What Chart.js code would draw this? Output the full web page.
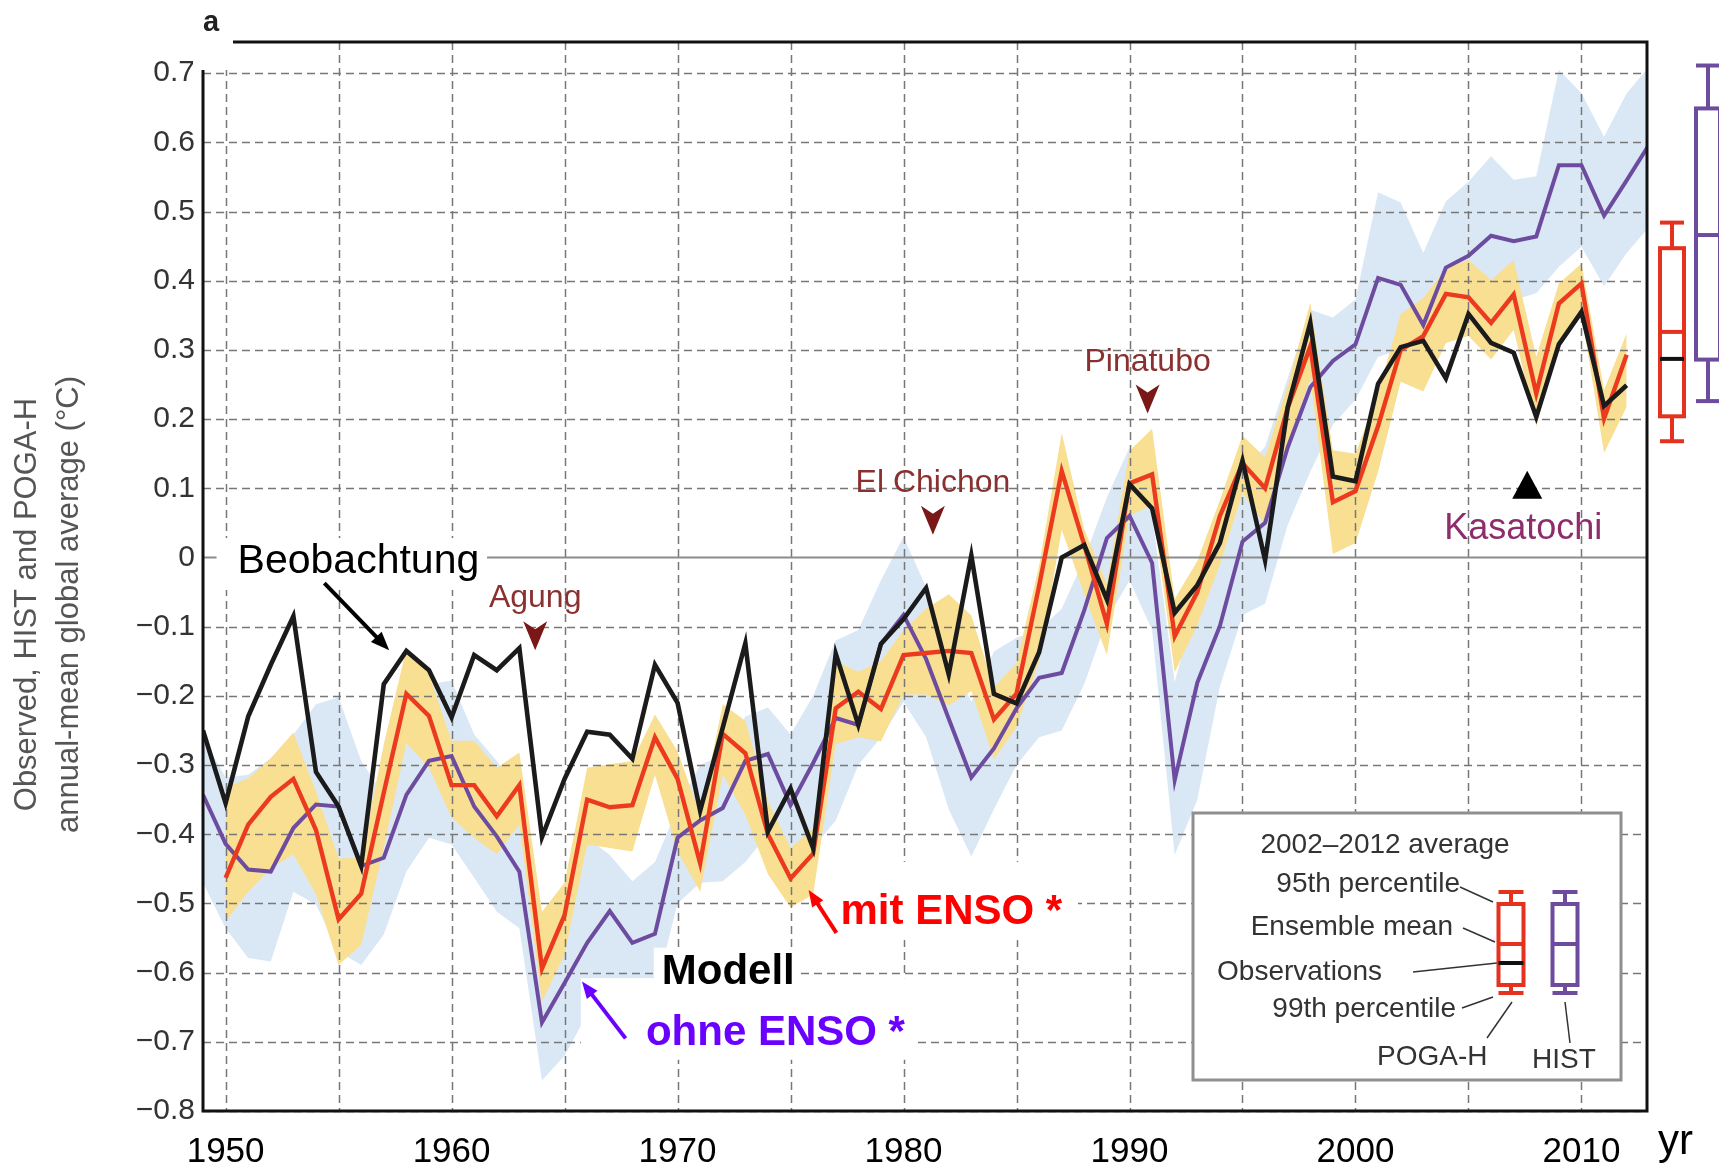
<!DOCTYPE html>
<html>
<head>
<meta charset="utf-8">
<script src="https://cdn.jsdelivr.net/npm/chart.js@4.4.1/dist/chart.umd.min.js"></script>
<style>
  html, body { margin: 0; padding: 0; background: #fff; }
  #wrap { width: 1719px; height: 1165px; position: relative; }
</style>
</head>
<body>
<div id="wrap"><canvas id="chart"></canvas></div>
<script>
// years on the x axis
var years = [1949, 1950, 1951, 1952, 1953, 1954, 1955, 1956, 1957, 1958,
  1959, 1960, 1961, 1962, 1963, 1964, 1965, 1966, 1967, 1968,
  1969, 1970, 1971, 1972, 1973, 1974, 1975, 1976, 1977, 1978,
  1979, 1980, 1981, 1982, 1983, 1984, 1985, 1986, 1987, 1988,
  1989, 1990, 1991, 1992, 1993, 1994, 1995, 1996, 1997, 1998,
  1999, 2000, 2001, 2002, 2003, 2004, 2005, 2006, 2007, 2008,
  2009, 2010, 2011, 2012, 2013];

// observed (black)
var observed = [-0.25, -0.355, -0.23, -0.155, -0.085, -0.31, -0.36, -0.446, -0.183, -0.135,
  -0.163, -0.231, -0.141, -0.163, -0.131, -0.404, -0.32, -0.252, -0.256, -0.291,
  -0.155, -0.21, -0.366, -0.246, -0.124, -0.396, -0.334, -0.42, -0.139, -0.242,
  -0.125, -0.089, -0.044, -0.169, 0.003, -0.197, -0.211, -0.137, 0.0, 0.018,
  -0.061, 0.106, 0.071, -0.08, -0.04, 0.021, 0.14, -0.004, 0.217, 0.339,
  0.117, 0.11, 0.251, 0.304, 0.313, 0.259, 0.352, 0.31, 0.296, 0.203,
  0.308, 0.355, 0.219, 0.249, null];

// POGA-H ensemble mean (red) and its spread (yellow)
var pogaMean = [null, -0.463, -0.386, -0.346, -0.32, -0.394, -0.523, -0.486, -0.34, -0.197,
  -0.229, -0.329, -0.329, -0.374, -0.329, -0.594, -0.517, -0.35, -0.361, -0.358,
  -0.26, -0.32, -0.442, -0.255, -0.283, -0.4, -0.464, -0.428, -0.218, -0.194,
  -0.219, -0.141, -0.138, -0.135, -0.138, -0.234, -0.197, -0.041, 0.125, 0.018,
  -0.096, 0.107, 0.12, -0.114, -0.05, 0.06, 0.136, 0.1, 0.216, 0.305,
  0.08, 0.096, 0.19, 0.3, 0.32, 0.381, 0.376, 0.339, 0.38, 0.237,
  0.367, 0.396, 0.201, 0.293, null];
var pogaHigh = [null, -0.333, -0.319, -0.29, -0.253, -0.338, -0.435, -0.434, -0.27, -0.132,
  -0.169, -0.265, -0.265, -0.304, -0.282, -0.512, -0.47, -0.304, -0.299, -0.294,
  -0.227, -0.28, -0.372, -0.212, -0.236, -0.352, -0.42, -0.391, -0.15, -0.165,
  -0.15, -0.105, -0.074, -0.053, -0.084, -0.188, -0.152, -0.012, 0.18, 0.04,
  -0.038, 0.154, 0.186, -0.06, -0.005, 0.083, 0.176, 0.145, 0.249, 0.368,
  0.155, 0.15, 0.238, 0.352, 0.375, 0.418, 0.43, 0.401, 0.43, 0.29,
  0.396, 0.425, 0.242, 0.324, null];
var pogaLow = [null, -0.526, -0.483, -0.449, -0.429, -0.487, -0.589, -0.56, -0.42, -0.268,
  -0.304, -0.376, -0.405, -0.429, -0.386, -0.642, -0.574, -0.415, -0.42, -0.425,
  -0.314, -0.425, -0.483, -0.314, -0.372, -0.458, -0.506, -0.487, -0.27, -0.26,
  -0.266, -0.198, -0.198, -0.214, -0.193, -0.292, -0.245, -0.15, 0.04, -0.053,
  -0.141, 0.061, 0.075, -0.166, -0.098, -0.01, 0.093, 0.047, 0.166, 0.259,
  0.005, 0.021, 0.124, 0.254, 0.24, 0.31, 0.32, 0.286, 0.329, 0.189,
  0.314, 0.353, 0.151, 0.218, null];

// HIST ensemble mean (purple) and its spread (blue)
var histMean = [-0.343, -0.414, -0.451, -0.454, -0.391, -0.357, -0.36, -0.446, -0.434, -0.343,
  -0.294, -0.287, -0.36, -0.403, -0.454, -0.672, -0.615, -0.557, -0.511, -0.557,
  -0.544, -0.405, -0.38, -0.362, -0.294, -0.284, -0.358, -0.297, -0.232, -0.242,
  -0.125, -0.083, -0.147, -0.233, -0.318, -0.276, -0.218, -0.174, -0.167, -0.076,
  0.028, 0.06, -0.008, -0.322, -0.181, -0.099, 0.023, 0.05, 0.159, 0.246,
  0.284, 0.308, 0.404, 0.394, 0.336, 0.419, 0.436, 0.465, 0.457, 0.464,
  0.567, 0.567, 0.494, 0.545, 0.597];
var histHigh = [-0.26, -0.318, -0.314, -0.29, -0.256, -0.212, -0.202, -0.294, -0.343, -0.27,
  -0.183, -0.178, -0.256, -0.294, -0.333, -0.52, -0.478, -0.405, -0.43, -0.468,
  -0.44, -0.362, -0.3, -0.285, -0.23, -0.217, -0.256, -0.2, -0.12, -0.105,
  -0.033, 0.03, -0.043, -0.136, -0.209, -0.136, -0.116, -0.105, -0.074, -0.002,
  0.087, 0.159, 0.06, -0.18, -0.06, 0.005, 0.124, 0.16, 0.259, 0.358,
  0.347, 0.373, 0.528, 0.513, 0.44, 0.515, 0.543, 0.58, 0.546, 0.551,
  0.705, 0.671, 0.608, 0.671, 0.71];
var histLow = [-0.47, -0.536, -0.579, -0.584, -0.483, -0.502, -0.57, -0.589, -0.545, -0.454,
  -0.405, -0.415, -0.463, -0.512, -0.536, -0.756, -0.72, -0.66, -0.64, -0.64,
  -0.63, -0.5, -0.47, -0.468, -0.44, -0.4, -0.44, -0.42, -0.38, -0.3,
  -0.26, -0.209, -0.26, -0.364, -0.432, -0.364, -0.3, -0.26, -0.25, -0.183,
  -0.09, -0.033, -0.105, -0.43, -0.35, -0.187, -0.083, -0.067, 0.047, 0.124,
  0.192, 0.228, 0.29, 0.3, 0.245, 0.335, 0.367, 0.382, 0.372, 0.382,
  0.42, 0.449, 0.392, 0.44, 0.478];

// 2002-2012 averages (box plots right of the frame)
var boxNames = ['POGA-H', 'HIST'];
var box99Low = [0.168, 0.226];
var box95Low = [0.204, 0.286];
var boxMeans = [0.326, 0.466];
var box95High = [0.447, 0.649];
var box99High = [0.484, 0.711];
var obsAverage = 0.287;

// volcanic eruptions
var volcanoNames = ['Agung', 'El Chichon', 'Pinatubo'];
var volcanoYears = [1963.7, 1981.3, 1990.8];
var volcanoTips = [-0.134, 0.033, 0.208];

function toPoints(values) {
  var pts = [];
  for (var i = 0; i < years.length; i++) {
    if (values[i] !== null) pts.push({x: years[i], y: values[i]});
  }
  return pts;
}

function seg(ctx, x1, y1, x2, y2) {
  ctx.beginPath(); ctx.moveTo(x1, y1); ctx.lineTo(x2, y2); ctx.stroke();
}

function arrow(ctx, x1, y1, x2, y2, color, w, head) {
  var ang = Math.atan2(y2 - y1, x2 - x1);
  ctx.strokeStyle = color; ctx.fillStyle = color; ctx.lineWidth = w;
  seg(ctx, x1, y1, x2 - Math.cos(ang) * head * 0.7, y2 - Math.sin(ang) * head * 0.7);
  ctx.beginPath();
  ctx.moveTo(x2, y2);
  ctx.lineTo(x2 - head * Math.cos(ang - 0.38), y2 - head * Math.sin(ang - 0.38));
  ctx.lineTo(x2 - head * Math.cos(ang + 0.38), y2 - head * Math.sin(ang + 0.38));
  ctx.closePath(); ctx.fill();
}

function boxGlyph(ctx, cx, w, yCapTop, yTop, yMid, yBot, yCapBot, color) {
  ctx.strokeStyle = color; ctx.lineWidth = 4;
  ctx.strokeRect(cx - w / 2, yTop, w, yBot - yTop);
  seg(ctx, cx - w / 2, yMid, cx + w / 2, yMid);
  seg(ctx, cx, yCapTop, cx, yTop);
  seg(ctx, cx, yBot, cx, yCapBot);
  seg(ctx, cx - w / 2, yCapTop, cx + w / 2, yCapTop);
  seg(ctx, cx - w / 2, yCapBot, cx + w / 2, yCapBot);
}

var decor = {
  id: 'decor',
  // grid and white label boxes go above the bands but under the lines
  afterDatasetDraw: function (chart, args) {
    if (args.index !== 3) return;
    var ctx = chart.ctx, a = chart.chartArea, sx = chart.scales.x, sy = chart.scales.y;
    ctx.save();
    ctx.strokeStyle = '#777'; ctx.lineWidth = 1.5; ctx.setLineDash([8, 5]);
    sx.ticks.forEach(function (t) {
      var p = Math.round(sx.getPixelForValue(t.value)) + 0.5;
      seg(ctx, p, a.top, p, a.bottom);
    });
    sy.ticks.forEach(function (t) {
      if (Math.abs(t.value) < 1e-9) return;
      var p = Math.round(sy.getPixelForValue(t.value)) + 0.5;
      seg(ctx, a.left, p, a.right, p);
    });
    ctx.setLineDash([]);
    ctx.strokeStyle = '#8c8c8c'; ctx.lineWidth = 1.8;
    var z = Math.round(sy.getPixelForValue(0)) + 0.5;
    seg(ctx, a.left, z, a.right, z);

    ctx.fillStyle = '#ffffff';
    function whiteBox(x1, v1, x2, v2) {
      var px1 = sx.getPixelForValue(x1), py1 = sy.getPixelForValue(v1);
      ctx.fillRect(px1, py1, sx.getPixelForValue(x2) - px1, sy.getPixelForValue(v2) - py1);
    }
    whiteBox(1949.6, 0.028, 1961.57, -0.047);
    whiteBox(1976.33, -0.44, 1987.72, -0.553);
    whiteBox(1968.95, -0.564, 1975.35, -0.628);
    whiteBox(1965.72, -0.608, 1980.43, -0.726);
    ctx.restore();
  },
  afterDraw: function (chart) {
    var ctx = chart.ctx, a = chart.chartArea, sx = chart.scales.x, sy = chart.scales.y;
    var X = function (v) { return sx.getPixelForValue(v); };
    var Y = function (v) { return sy.getPixelForValue(v); };
    ctx.save();

    // frame
    ctx.strokeStyle = '#111'; ctx.lineWidth = 3;
    ctx.strokeRect(a.left, a.top, a.right - a.left, a.bottom - a.top);
    ctx.fillStyle = '#fff';
    ctx.fillRect(a.left - 10, a.top - 12, 40, 40);
    ctx.fillStyle = '#222'; ctx.font = 'bold 29px "Liberation Sans"';
    ctx.textAlign = 'left'; ctx.textBaseline = 'alphabetic';
    ctx.fillText('a', a.left, a.top - 11);

    // y axis title
    ctx.save();
    ctx.translate(27, (a.top + a.bottom) / 2 + 28);
    ctx.rotate(-Math.PI / 2);
    ctx.fillStyle = '#555'; ctx.font = '31px "Liberation Sans"';
    ctx.textAlign = 'center'; ctx.textBaseline = 'middle';
    ctx.fillText('Observed, HIST and POGA-H', 0, 0);
    ctx.fillText('annual-mean global average (\u00B0C)', 0, 42);
    ctx.restore();

    // x unit
    ctx.fillStyle = '#000'; ctx.font = '42px "Liberation Sans"';
    ctx.fillText('yr', a.right + 11, a.bottom + 43);

    // volcano markers
    ctx.textAlign = 'center';
    volcanoNames.forEach(function (name, i) {
      var x = X(volcanoYears[i]), tip = Y(volcanoTips[i]);
      ctx.fillStyle = '#7a1717';
      ctx.beginPath();
      ctx.moveTo(x, tip); ctx.lineTo(x - 12, tip - 29); ctx.lineTo(x, tip - 21); ctx.lineTo(x + 12, tip - 29);
      ctx.closePath(); ctx.fill();
      ctx.fillStyle = '#8a3030'; ctx.font = '32px "Liberation Sans"';
      ctx.fillText(name, x, tip - 43);
    });
    var kx = X(2007.6), kb = Y(0.085);
    ctx.fillStyle = '#000';
    ctx.beginPath(); ctx.moveTo(kx - 15, kb); ctx.lineTo(kx, kb - 28); ctx.lineTo(kx + 15, kb); ctx.closePath(); ctx.fill();
    ctx.fillStyle = '#8e2d6c'; ctx.font = '36px "Liberation Sans"';
    ctx.fillText('Kasatochi', kx - 4, kb + 40);

    // labels and arrows
    ctx.textAlign = 'left';
    ctx.fillStyle = '#000'; ctx.font = '41px "Liberation Sans"';
    ctx.fillText('Beobachtung', X(1950.53), Y(-0.0224));
    arrow(ctx, X(1954.37), Y(-0.037), X(1957.24), Y(-0.134), '#000', 4, 20);

    ctx.fillStyle = '#ff0000'; ctx.font = 'bold 42px "Liberation Sans"';
    ctx.fillText('mit ENSO *', X(1977.21), Y(-0.5296));
    arrow(ctx, X(1977.03), Y(-0.5426), X(1975.8), Y(-0.4805), '#ff0000', 4, 18);

    ctx.fillStyle = '#000';
    ctx.fillText('Modell', X(1969.3), Y(-0.617));
    ctx.fillStyle = '#6a00ff';
    ctx.fillText('ohne ENSO *', X(1968.6), Y(-0.7045));
    arrow(ctx, X(1967.7), Y(-0.695), X(1965.77), Y(-0.613), '#6a00ff', 4, 18);

    // 2002-2012 averages beside the frame
    var colors = ['#e5321f', '#6d4c9e'];
    var centers = [a.right + 25, a.right + 61];
    boxNames.forEach(function (n, i) {
      boxGlyph(ctx, centers[i], 24, Y(box99High[i]), Y(box95High[i]), Y(boxMeans[i]), Y(box95Low[i]), Y(box99Low[i]), colors[i]);
    });
    ctx.strokeStyle = '#111'; ctx.lineWidth = 4;
    seg(ctx, centers[0] - 12, Y(obsAverage), centers[0] + 12, Y(obsAverage));

    // inset legend
    var ox = a.right - 454, oy = a.bottom - 298;
    ctx.fillStyle = '#fff'; ctx.fillRect(ox, oy, 428, 267);
    ctx.strokeStyle = '#8f8f8f'; ctx.lineWidth = 3; ctx.strokeRect(ox, oy, 428, 267);
    ctx.fillStyle = '#333'; ctx.font = '28px "Liberation Sans"';
    ctx.textAlign = 'center'; ctx.fillText('2002\u20132012 average', ox + 192, oy + 40);
    ctx.textAlign = 'right';
    ctx.fillText('95th percentile', ox + 267, oy + 79);
    ctx.fillText('Ensemble mean', ox + 260, oy + 122);
    ctx.fillText('Observations', ox + 189, oy + 167);
    ctx.fillText('99th percentile', ox + 263, oy + 204);
    ctx.textAlign = 'left';
    ctx.fillText('POGA-H', ox + 184, oy + 252);
    ctx.fillText('HIST', ox + 339, oy + 255);
    ctx.strokeStyle = '#333'; ctx.lineWidth = 1.5;
    seg(ctx, ox + 267, oy + 74, ox + 300, oy + 89);
    seg(ctx, ox + 270, oy + 115, ox + 302, oy + 129);
    seg(ctx, ox + 220, oy + 159, ox + 304, oy + 150);
    seg(ctx, ox + 269, oy + 195, ox + 300, oy + 184);
    seg(ctx, ox + 294, oy + 225, ox + 319, oy + 189);
    seg(ctx, ox + 377, oy + 230, ox + 372, oy + 189);
    boxGlyph(ctx, ox + 318, 25, oy + 79, oy + 91, oy + 131, oy + 172, oy + 180, colors[0]);
    boxGlyph(ctx, ox + 372, 25, oy + 79, oy + 91, oy + 131, oy + 172, oy + 180, colors[1]);
    ctx.strokeStyle = '#111'; ctx.lineWidth = 4;
    seg(ctx, ox + 305.5, oy + 150, ox + 330.5, oy + 150);

    ctx.restore();
  }
};

var bandLine = {borderWidth: 0, borderColor: 'rgba(0,0,0,0)', pointRadius: 0};

new Chart(document.getElementById('chart'), {
  type: 'line',
  data: {
    datasets: [
      {label: 'Beobachtung', data: toPoints(observed), borderColor: '#1b1b1b', borderWidth: 4.6, fill: false},
      {label: 'POGA-H', data: toPoints(pogaMean), borderColor: '#ec3a1f', borderWidth: 4.4, fill: false},
      {label: 'HIST', data: toPoints(histMean), borderColor: '#6d4c9f', borderWidth: 4, fill: false},
      Object.assign({label: 'POGA-H spread', data: toPoints(pogaHigh), backgroundColor: '#f8df92', fill: '+1'}, bandLine),
      Object.assign({label: 'POGA-H low', data: toPoints(pogaLow), fill: false}, bandLine),
      Object.assign({label: 'HIST spread', data: toPoints(histHigh), backgroundColor: '#dae8f6', fill: '+1'}, bandLine),
      Object.assign({label: 'HIST low', data: toPoints(histLow), fill: false}, bandLine)
    ]
  },
  options: {
    responsive: true,
    maintainAspectRatio: false,
    animation: false,
    events: [],
    layout: {padding: {top: 42, right: 72, bottom: 0, left: 0}},
    elements: {point: {radius: 0}, line: {tension: 0, borderJoinStyle: 'miter'}},
    plugins: {legend: {display: false}, tooltip: {enabled: false}},
    scales: {
      x: {
        type: 'linear', min: 1949, max: 2012.9,
        grid: {display: false, drawTicks: false},
        border: {display: false},
        afterFit: function (s) { s.height = 54; },
        ticks: {
          stepSize: 5, includeBounds: false, autoSkip: false, maxRotation: 0, padding: 20,
          color: '#000', font: {family: 'Liberation Sans', size: 35},
          callback: function (v) { return v % 10 === 0 ? String(v) : ''; }
        }
      },
      y: {
        type: 'linear', min: -0.8, max: 0.745,
        grid: {display: false, drawTicks: false},
        border: {display: false},
        afterFit: function (s) { s.width = 203; },
        ticks: {
          stepSize: 0.1, includeBounds: false, padding: 8,
          color: '#333', font: {family: 'Liberation Sans', size: 30},
          callback: function (v) {
            var s = Math.abs(v) < 1e-9 ? '0' : v.toFixed(1);
            return s.replace('-', '\u2212');
          }
        }
      }
    }
  },
  plugins: [decor]
});
</script>
</body>
</html>
